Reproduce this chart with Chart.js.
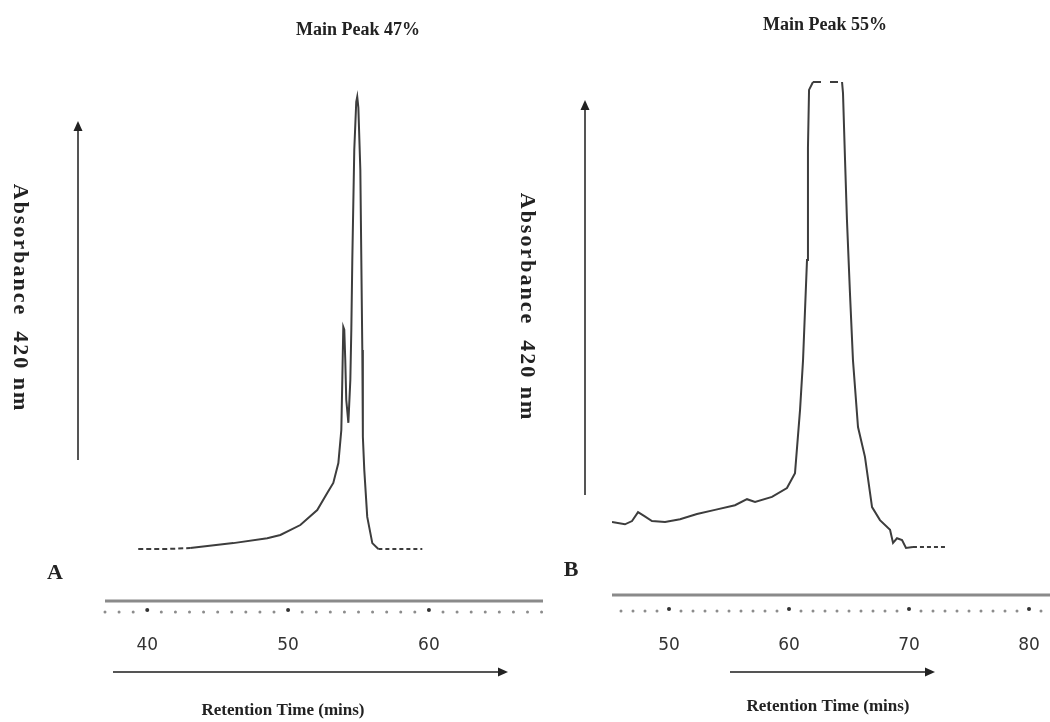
<!DOCTYPE html>
<html>
<head>
<meta charset="utf-8">
<script src="https://cdn.jsdelivr.net/npm/chart.js@4.4.1/dist/chart.umd.min.js"></script>
<style>
html,body{margin:0;padding:0;background:#fff;}
#quadro{position:relative;width:1050px;height:722px;overflow:hidden;background:#fff;}
#graficoA{position:absolute;left:0;top:0;}
#graficoB{position:absolute;left:500px;top:0;}
</style>
</head>
<body>
<div id="quadro">
<canvas id="graficoA" width="550" height="722"></canvas>
<canvas id="graficoB" width="550" height="722"></canvas>
</div>
<script>
// painel A - tempo de retencao (min) e absorbancia (relativa, pico principal = 100)
const tempoA = [39.36,41.28,43.05,46.11,48.52,49.45,50.87,52.07,52.78,53.21,53.57,53.78,53.85,53.92,53.99,54.06,54.13,54.28,54.42,54.49,54.56,54.70,54.84,54.91,54.99,55.13,55.20,55.27,55.31,55.41,55.62,55.98,56.41,59.53];
const absA   = [0,0,0.2,1.3,2.4,3.1,5.3,8.6,12.4,14.6,19.0,26.3,37.4,49.1,48.5,41.8,33.0,27.9,37.4,48.5,63.9,88.3,98.9,100,97.6,83.8,63.9,44.0,24.8,17.5,7.1,1.3,0,0];
const ticksA = [40,50,60];
const tituloA = "Main Peak 47%";

// painel B
const tempoB = [45.25,46.33,46.92,47.42,47.92,48.58,49.67,50.92,52.33,53.83,55.5,56.5,57.17,58.58,59.83,60.5,60.92,61.17,61.5,61.58,61.67,62.0,64.42,64.5,64.67,64.83,65.08,65.33,65.75,66.33,66.92,67.58,68.42,68.67,69.0,69.42,69.75,70.33,73.0];
const absB   = [5.4,4.9,5.6,7.5,6.7,5.6,5.4,6.0,7.1,8.0,9.0,10.3,9.7,10.8,12.7,15.9,29.5,40.2,61.7,85.8,98.3,100,100,97.6,83.2,70.3,54.6,40.2,25.8,19.4,8.6,5.8,3.7,0.9,1.9,1.5,-0.2,0,0];
const ticksB = [50,60,70,80];
const tituloB = "Main Peak 55%";

const rotuloX = "Retention Time (mins)";
const rotuloY = "Absorbance  420 nm";

function seta(c, x1, y1, x2, y2){
    const ang = Math.atan2(y2-y1, x2-x1);
    c.beginPath();
    c.moveTo(x1,y1);
    c.lineTo(x2 - 6*Math.cos(ang), y2 - 6*Math.sin(ang));
    c.stroke();
    c.beginPath();
    c.moveTo(x2,y2);
    c.lineTo(x2 - 10*Math.cos(ang) + 4.5*Math.sin(ang), y2 - 10*Math.sin(ang) - 4.5*Math.cos(ang));
    c.lineTo(x2 - 10*Math.cos(ang) - 4.5*Math.sin(ang), y2 - 10*Math.sin(ang) + 4.5*Math.cos(ang));
    c.closePath();
    c.fill();
}

const decoracao = {
    id:'decoracao',
    afterDraw(chart, args, o){
        const c = chart.ctx;
        const x = chart.scales.x;
        const area = chart.chartArea;
        const base = area.bottom;
        c.save();

        // eixo solido
        c.strokeStyle = '#8a8a8a';
        c.lineWidth = 3;
        c.beginPath();
        c.moveTo(area.left, base);
        c.lineTo(area.right, base);
        c.stroke();

        // pontinhos a cada minuto
        for(let t=o.pontoIni; t<=o.pontoFim; t++){
            const px = x.getPixelForValue(t);
            const maior = o.ticks.includes(t);
            c.fillStyle = maior ? '#333' : '#8c8c8c';
            c.beginPath();
            c.arc(px, base + (maior ? o.dotY-2 : o.dotY), maior ? 2 : 1.5, 0, Math.PI*2);
            c.fill();
        }

        // numeros
        c.fillStyle = '#333';
        c.font = '17px "DejaVu Sans"';
        c.textAlign = 'center';
        c.textBaseline = 'middle';
        o.ticks.forEach(t => c.fillText(String(t), x.getPixelForValue(t), o.numY));

        // setas
        c.strokeStyle = '#555';
        c.fillStyle = '#222';
        c.lineWidth = 2;
        seta(c, o.setaH[0], o.setaH[2], o.setaH[1], o.setaH[2]);
        seta(c, o.setaV[0], o.setaV[2], o.setaV[0], o.setaV[1]);

        // textos
        c.fillStyle = '#222';
        c.font = 'bold 18px "Liberation Serif"';
        c.fillText(o.titulo, o.tituloPos[0], o.tituloPos[1]);
        c.font = 'bold 17px "Liberation Serif"';
        c.fillText(rotuloX, o.xTitPos[0], o.xTitPos[1]);
        c.font = 'bold 22px "Liberation Serif"';
        c.fillText(o.letra, o.letraPos[0], o.letraPos[1]);

        c.save();
        c.translate(o.yTitPos[0], o.yTitPos[1]);
        c.rotate(Math.PI/2);
        c.font = 'bold 22px "Liberation Serif"';
        c.letterSpacing = '2px';
        c.fillText(rotuloY, 0, 0);
        c.restore();

        c.restore();
    }
};

function criarGrafico(id, tempos, valores, cfg){
    const trechos = cfg.trechos;
    return new Chart(document.getElementById(id), {
        type:'line',
        data:{
            datasets:[{
                data: tempos.map((t,i)=>({x:t, y:valores[i]})),
                borderColor:'#3d3d3d',
                borderWidth:2,
                pointRadius:0,
                tension:0,
                segment:{
                    borderDash: ctx => {
                        const a = ctx.p0.parsed.x, b = ctx.p1.parsed.x;
                        for(const tr of trechos){
                            if(a >= tr[0]-1e-6 && b <= tr[1]+1e-6) return tr[2];
                        }
                        return undefined;
                    }
                }
            }]
        },
        options:{
            responsive:false,
            animation:false,
            devicePixelRatio:1,
            layout:{padding:cfg.padding},
            scales:{
                x:{type:'linear', display:false, min:cfg.xmin, max:cfg.xmax},
                y:{display:false, min:cfg.ymin, max:cfg.ymax}
            },
            plugins:{
                legend:{display:false},
                tooltip:{enabled:false},
                decoracao:cfg.decor
            }
        },
        plugins:[decoracao]
    });
}

criarGrafico("graficoA", tempoA, absA, {
    padding:{left:105, right:7, top:90, bottom:121},
    xmin:37, xmax:68.1, ymin:-11.5, ymax:101.5,
    trechos:[[39.36,43.05,[5,3]],[56.41,59.53,[4,3]]],
    decor:{
        ticks:ticksA, pontoIni:37, pontoFim:68, dotY:11, numY:646,
        setaH:[113,508,672], setaV:[78,121,460],
        titulo:tituloA, tituloPos:[358,30],
        xTitPos:[283,711], letra:"A", letraPos:[55,573], yTitPos:[20,298]
    }
});

criarGrafico("graficoB", tempoB, absB, {
    padding:{left:112, right:0, top:75, bottom:127},
    xmin:45.25, xmax:81.75, ymin:-10.3, ymax:101.5,
    trechos:[[62.0,64.42,[8,9]],[70.33,73.0,[4,3]]],
    decor:{
        ticks:ticksB, pontoIni:46, pontoFim:81, dotY:16, numY:646,
        setaH:[230,435,672], setaV:[85,100,495],
        titulo:tituloB, tituloPos:[325,25],
        xTitPos:[328,707], letra:"B", letraPos:[71,570], yTitPos:[27,307]
    }
});
</script>
</body>
</html>
